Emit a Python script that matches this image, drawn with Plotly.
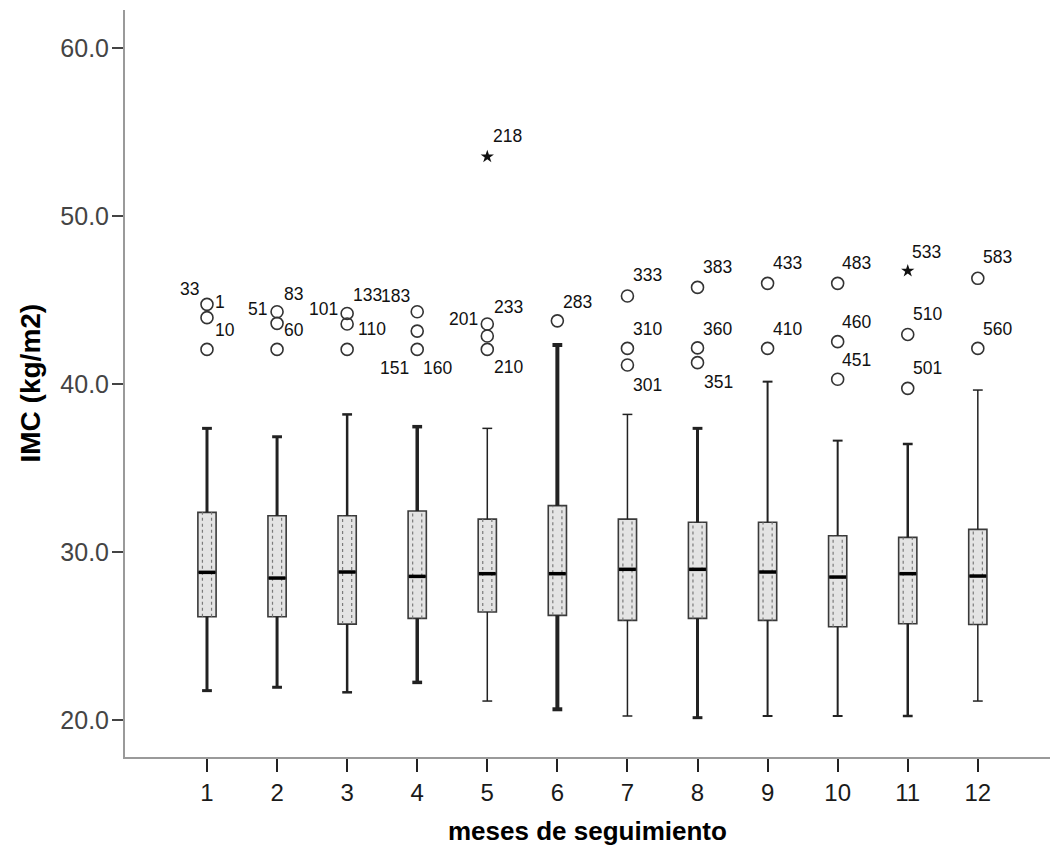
import plotly.graph_objects as go

# Body-mass index (kg/m2) by month of follow-up
months = list(range(1, 13))
lower_whisker = [21.75, 21.95, 21.65, 22.24, 21.13, 20.64, 20.24, 20.14, 20.24, 20.24, 20.24, 21.13]
q1 = [26.15, 26.15, 25.71, 26.05, 26.43, 26.23, 25.93, 26.05, 25.93, 25.55, 25.73, 25.69]
median = [28.79, 28.45, 28.81, 28.55, 28.71, 28.71, 28.97, 28.97, 28.81, 28.51, 28.71, 28.57]
q3 = [32.36, 32.16, 32.16, 32.44, 31.96, 32.76, 31.96, 31.77, 31.77, 30.97, 30.87, 31.35]
upper_whisker = [37.36, 36.86, 38.19, 37.46, 37.36, 42.32, 38.19, 37.36, 40.14, 36.63, 36.43, 39.64]

# Outliers (circles) with their case numbers
outlier_month = [1, 1, 1, 2, 2, 2, 3, 3, 3, 4, 4, 4, 5, 5, 5, 6,
                 7, 7, 7, 8, 8, 8, 9, 9, 10, 10, 10, 11, 11, 12, 12]
outlier_value = [44.74, 43.95, 42.06, 44.30, 43.61, 42.06, 44.20, 43.57, 42.06,
                 44.30, 43.15, 42.06, 43.57, 42.86, 42.06, 43.76,
                 45.24, 42.12, 41.13, 45.75, 42.15, 41.27, 45.99, 42.12,
                 45.99, 42.52, 40.28, 42.95, 39.74, 46.29, 42.12]
outlier_case = ["33", "1", "10", "83", "51", "60", "133", "101", "110",
                "183", "151", "160", "233", "201", "210", "283",
                "333", "310", "301", "383", "360", "351", "433", "410",
                "483", "460", "451", "510", "501", "583", "560"]

# Extreme values (stars) with their case numbers
extreme_month = [5, 11]
extreme_value = [53.53, 46.73]
extreme_case = ["218", "533"]

# Label placement next to each marker (pixels: right, up)
outlier_label_shift = [(-17, 15), (13, 16), (18, 19), (16, 18), (-20, 14), (17, 19),
                       (20, 18), (-24, 15), (25, 20), (-22, 16), (-23, -37), (20, -19),
                       (21, 17), (-24, 17), (21, -18), (20, 19),
                       (20, 21), (20, 19), (20, -20), (20, 20), (20, 19), (21, -19),
                       (20, 20), (20, 19), (19, 20), (19, 20), (19, 19),
                       (20, 20), (20, 20), (20, 21), (20, 19)]
extreme_label_shift = [(20, 21), (19, 19)]

whisker_width = [3, 3, 2.5, 3.5, 1.5, 4, 1.5, 3, 2, 2, 2.5, 1.5]

BOX_HALF = 0.13
CAP_HALF = 0.07
FONT = "Liberation Sans, Arial, sans-serif"
INK = "#222222"

fig = go.Figure()

# Whiskers and caps
for i, m in enumerate(months):
    w = whisker_width[i]
    fig.add_trace(go.Scatter(
        x=[m, m, None, m, m, None, m - CAP_HALF, m + CAP_HALF, None, m - CAP_HALF, m + CAP_HALF],
        y=[q3[i], upper_whisker[i], None, q1[i], lower_whisker[i], None,
           upper_whisker[i], upper_whisker[i], None, lower_whisker[i], lower_whisker[i]],
        mode="lines", line=dict(color=INK, width=w), hoverinfo="skip", showlegend=False))

# Boxes
fig.add_trace(go.Box(
    x=months, q1=q1, median=median, q3=q3, lowerfence=q1, upperfence=q3,
    width=2 * BOX_HALF, whiskerwidth=0, boxpoints=False,
    fillcolor="#e4e4e4", line=dict(color="#3a3a3a", width=1.6),
    showlegend=False, hoverinfo="skip"))

# Dotted hatch inside each box
for i, m in enumerate(months):
    for off in (-0.065, 0.065):
        fig.add_trace(go.Scatter(
            x=[m + off, m + off], y=[q1[i], q3[i]], mode="lines",
            line=dict(color="#7a7a7a", width=1.2, dash="dot"),
            hoverinfo="skip", showlegend=False))

# Median bars
for i, m in enumerate(months):
    fig.add_trace(go.Scatter(
        x=[m - BOX_HALF + 0.01, m + BOX_HALF - 0.01], y=[median[i], median[i]],
        mode="lines", line=dict(color="#000000", width=3.5),
        hoverinfo="skip", showlegend=False))

# Outliers and extremes
fig.add_trace(go.Scatter(
    x=outlier_month, y=outlier_value, mode="markers",
    marker=dict(symbol="circle-open", size=12, color="#333333", line=dict(width=1.6)),
    hoverinfo="skip", showlegend=False))
fig.add_trace(go.Scatter(
    x=extreme_month, y=extreme_value, mode="markers",
    marker=dict(symbol="star", size=10, color="#111111"),
    hoverinfo="skip", showlegend=False))

annotations = []
for m, v, c, (dx, dy) in zip(outlier_month, outlier_value, outlier_case, outlier_label_shift):
    annotations.append(dict(x=m, y=v, text=c, showarrow=False, xshift=dx, yshift=dy,
                            font=dict(family=FONT, size=17.5, color="#111111")))
for m, v, c, (dx, dy) in zip(extreme_month, extreme_value, extreme_case, extreme_label_shift):
    annotations.append(dict(x=m, y=v, text=c, showarrow=False, xshift=dx, yshift=dy,
                            font=dict(family=FONT, size=17.5, color="#111111")))

# Axis titles
annotations.append(dict(text="<b>meses de seguimiento</b>", xref="paper", yref="paper",
                        x=0.5, y=0, xanchor="center", yanchor="middle", yshift=-74,
                        showarrow=False, font=dict(family=FONT, size=26, color="#000000")))
annotations.append(dict(text="<b>IMC (kg/m2)</b>", xref="paper", yref="paper",
                        x=0, y=0.5, xanchor="center", yanchor="middle", xshift=-95,
                        textangle=-90, showarrow=False,
                        font=dict(family=FONT, size=28, color="#000000")))

fig.update_layout(
    width=1053, height=850,
    margin=dict(l=125, r=3, t=10, b=93),
    plot_bgcolor="white", paper_bgcolor="white",
    annotations=annotations,
    xaxis=dict(range=[-0.17, 13.03], tickmode="array", tickvals=months,
               ticktext=[str(m) for m in months],
               showgrid=False, zeroline=False, showline=True, linecolor="#9a9a9a", linewidth=2,
               ticks="outside", ticklen=13, tickwidth=1.5, tickcolor="#222222",
               tickfont=dict(family=FONT, size=24, color="#1a1a1a")),
    yaxis=dict(range=[17.80, 62.26], tickmode="array", tickvals=[20, 30, 40, 50, 60],
               ticktext=["20.0", "30.0", "40.0", "50.0", "60.0"],
               showgrid=False, zeroline=False, showline=True, linecolor="#9a9a9a", linewidth=2,
               ticks="outside", ticklen=11, tickwidth=1.5, tickcolor="#444444",
               ticklabelstandoff=-2,
               tickfont=dict(family=FONT, size=25, color="#444444")),
)

fig.write_html("out.html")
